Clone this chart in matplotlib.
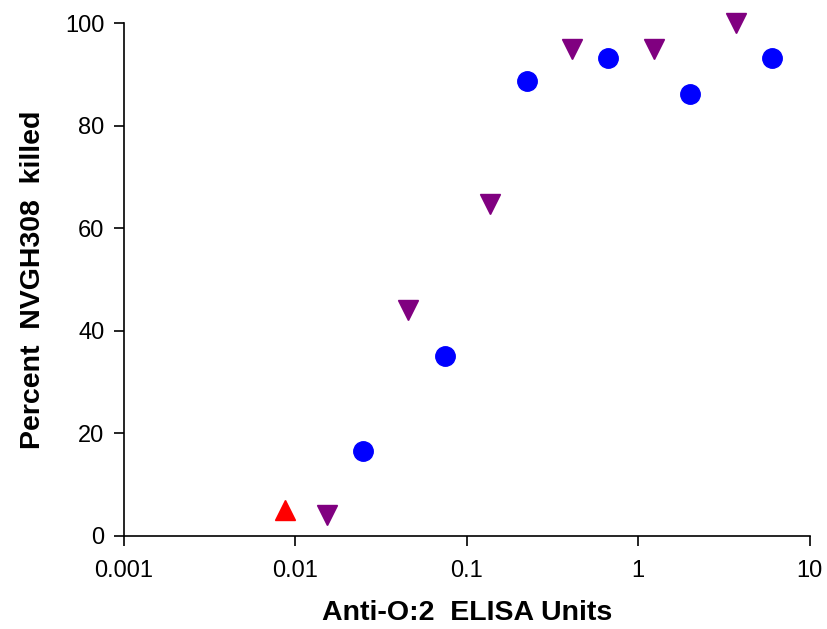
import matplotlib
matplotlib.use("Agg")
import matplotlib.pyplot as plt
from matplotlib.ticker import FixedLocator, FixedFormatter, NullLocator

plt.rcParams["font.family"] = ["Liberation Sans", "DejaVu Sans"]

# Dados
red_x = [0.0087]
red_y = [5]

purple_x = [0.0153, 0.0453, 0.136, 0.41, 1.23, 3.7]
purple_y = [4.1, 44, 64.7, 95, 95, 100]

blue_x = [0.0248, 0.0745, 0.224, 0.664, 2.0, 6.0]
blue_y = [16.6, 35.1, 88.7, 93.2, 86.2, 93.2]

x_ticks = [0.001, 0.01, 0.1, 1, 10]
x_labels = ["0.001", "0.01", "0.1", "1", "10"]
y_ticks = [0, 20, 40, 60, 80, 100]

fig = plt.figure(figsize=(8.27, 6.29), dpi=100)
ax = fig.add_axes([0.15, 0.148, 0.829, 0.815])

ax.plot(red_x, red_y, "^", color="#ff0000", markersize=14, clip_on=False)
ax.plot(purple_x, purple_y, "v", color="#800080", markersize=14, clip_on=False)
ax.plot(blue_x, blue_y, "o", color="#0000ff", markersize=14, clip_on=False)

ax.set_xscale("log")
ax.set_xlim(0.001, 10)
ax.set_ylim(0, 100)
ax.xaxis.set_major_locator(FixedLocator(x_ticks))
ax.xaxis.set_major_formatter(FixedFormatter(x_labels))
ax.xaxis.set_minor_locator(NullLocator())
ax.set_yticks(y_ticks)

for s in ["top", "right"]:
    ax.spines[s].set_visible(False)
for s in ["left", "bottom"]:
    ax.spines[s].set_linewidth(1.2)

ax.tick_params(axis="both", direction="out", length=7, width=1.2, labelsize=17, pad=7)
ax.tick_params(axis="x", pad=10)

ax.set_xlabel("Anti-O:2  ELISA Units", fontsize=20.5, fontweight="bold", labelpad=13)
ax.set_ylabel("Percent  NVGH308  killed", fontsize=20.5, fontweight="bold", labelpad=14)

fig.savefig("out.png", dpi=100)
